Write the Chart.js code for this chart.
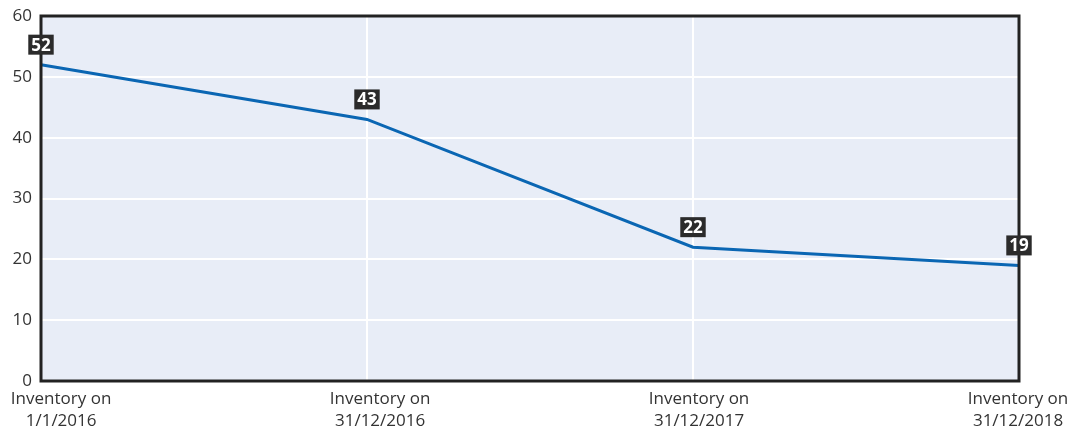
<!DOCTYPE html>
<html lang="en">
<head>
<meta charset="UTF-8">
<title>Inventory</title>
<script src="https://cdn.jsdelivr.net/npm/chart.js"></script>
<style>
  body { margin: 0; background: #fff; }
  .chart-box { position: relative; width: 1072px; height: 434px; }
</style>
</head>
<body>
<div class="chart-box"><canvas id="chart"></canvas></div>
<script>
// data
const categories = [
  ['Inventory on', '1/1/2016'],
  ['Inventory on', '31/12/2016'],
  ['Inventory on', '31/12/2017'],
  ['Inventory on', '31/12/2018']
];
const inventory = [52, 43, 22, 19];
const yMin = 0, yMax = 60, yStep = 10;

// labels in the original are spread a bit inside the plot edges,
// so they sit on their own linear axis with slightly wider bounds
const labelAxisMin = -0.063, labelAxisMax = 3.003;

const FONT = '"Open Sans", "Noto Sans", sans-serif';

const plotFrame = {
  id: 'plotFrame',
  beforeDraw(chart) {
    const { ctx, chartArea: a } = chart;
    ctx.save();
    ctx.fillStyle = '#e8edf7';
    ctx.fillRect(a.left, a.top, a.right - a.left, a.bottom - a.top);
    ctx.restore();
  },
  afterDatasetsDraw(chart) {
    const { ctx, chartArea: a } = chart;
    ctx.save();
    ctx.strokeStyle = '#222';
    ctx.lineWidth = 3;
    ctx.strokeRect(a.left, a.top, a.right - a.left, a.bottom - a.top);

    // value boxes above each point
    const meta = chart.getDatasetMeta(0);
    ctx.font = 'bold 17px ' + FONT;
    ctx.textAlign = 'center';
    ctx.textBaseline = 'middle';
    meta.data.forEach((pt, i) => {
      const txt = String(inventory[i]);
      const w = ctx.measureText(txt).width + 6;
      const h = 20;
      const bottom = pt.y - 10;
      ctx.fillStyle = '#2b2b2b';
      ctx.fillRect(pt.x - w / 2, bottom - h, w, h);
      ctx.fillStyle = '#fff';
      ctx.fillText(txt, pt.x, bottom - h / 2 + 1);
    });
    ctx.restore();
  }
};

new Chart(document.getElementById('chart'), {
  type: 'line',
  data: {
    labels: categories.map((c, i) => 'c' + i),
    datasets: [{
      data: inventory,
      borderColor: '#0a66b3',
      borderWidth: 3,
      pointRadius: 0,
      tension: 0,
      fill: false,
      xAxisID: 'x',
      yAxisID: 'y'
    }]
  },
  options: {
    responsive: true,
    maintainAspectRatio: false,
    animation: false,
    layout: { padding: { top: 16, right: 53, left: 0, bottom: 0 } },
    plugins: { legend: { display: false }, tooltip: { enabled: false } },
    scales: {
      x: {
        type: 'category',
        offset: false,
        grid: { color: '#ffffff', lineWidth: 2, drawTicks: false },
        border: { display: false },
        ticks: { display: false },
        afterFit(s) { s.height = 0; }
      },
      xl: {
        type: 'linear',
        position: 'bottom',
        min: labelAxisMin,
        max: labelAxisMax,
        grid: { display: false, drawTicks: false },
        border: { display: false },
        afterBuildTicks(s) { s.ticks = categories.map((c, i) => ({ value: i })); },
        ticks: {
          autoSkip: false,
          maxRotation: 0,
          padding: 8,
          color: '#333',
          font: { family: FONT, size: 17, lineHeight: 1.25 },
          callback: (v) => categories[v]
        },
        afterFit(s) {
          s.height = 53;
          s.paddingLeft = 0;
          s.paddingRight = 0;
        }
      },
      y: {
        min: yMin,
        max: yMax,
        grid: { color: '#ffffff', lineWidth: 2, drawTicks: false },
        border: { display: false },
        ticks: {
          stepSize: yStep,
          padding: 9,
          color: '#333',
          font: { family: FONT, size: 17 }
        },
        afterFit(s) {
          s.width = 41;
          s.paddingTop = 0;
          s.paddingBottom = 0;
        }
      }
    }
  },
  plugins: [plotFrame]
});
</script>
</body>
</html>
